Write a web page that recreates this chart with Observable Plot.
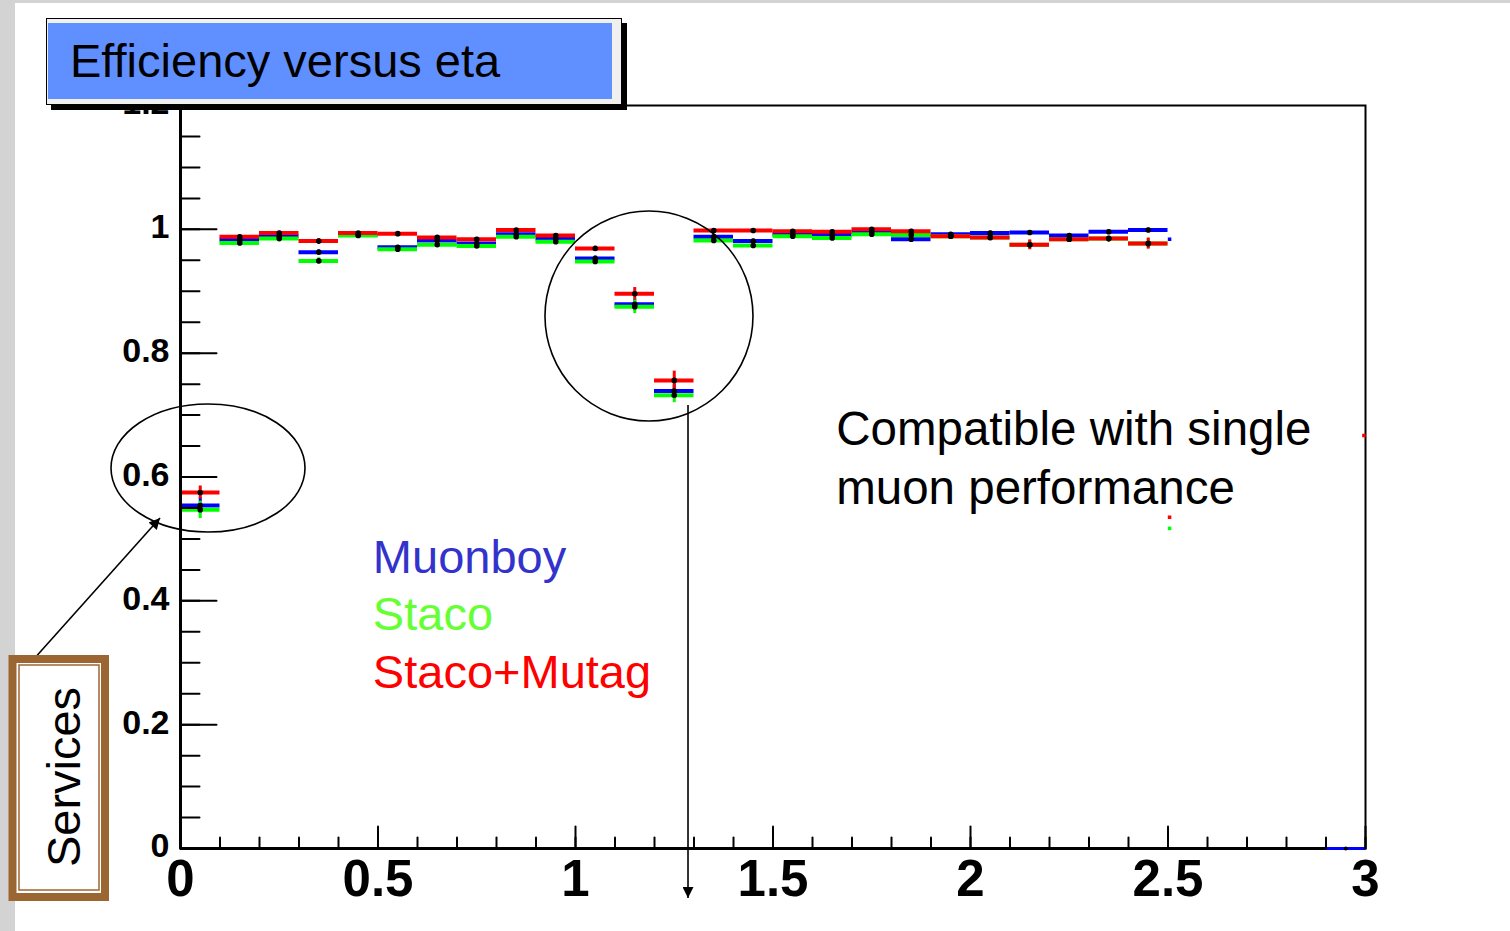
<!DOCTYPE html>
<html><head><meta charset="utf-8">
<script src="https://cdn.jsdelivr.net/npm/d3@7"></script>
<script src="https://cdn.jsdelivr.net/npm/@observablehq/plot@0.6"></script>
<style>
html,body{margin:0;padding:0;background:#fff;overflow:hidden;}
#chart svg{display:block;max-width:none;background:linear-gradient(#d3d3d3,#d3d3d3) 0 0/15px 100% no-repeat, linear-gradient(#d3d3d3,#d3d3d3) 0 0/100% 3px no-repeat, #fff;}
</style></head><body><div id="chart"></div>
<script>
// ---- data ----
const etaEdges = [0,0.1,0.2,0.3,0.4,0.5,0.6,0.7,0.8,0.9,1.0,1.1,1.2,1.3,1.4,1.5,1.6,1.7,1.8,1.9,2.0,2.1,2.2,2.3,2.4,2.5];
const muonboy    = [0.554,0.983,0.989,0.963,0.991,0.971,0.982,0.977,0.992,0.985,0.953,0.879,0.739,0.988,0.981,0.992,0.991,0.996,0.984,0.992,0.994,0.995,0.990,0.996,0.999];
const staco      = [0.547,0.978,0.985,0.949,0.990,0.968,0.975,0.973,0.988,0.980,0.948,0.875,0.732,0.982,0.974,0.989,0.986,0.992,0.991,0.989,0.987,0.975,0.984,0.985,0.977];
const stacoMutag = [0.575,0.988,0.994,0.981,0.994,0.993,0.987,0.984,0.999,0.990,0.969,0.896,0.756,0.998,0.998,0.997,0.996,1.000,0.997,0.989,0.987,0.975,0.984,0.985,0.977];
const errMuonboy    = [0.013,0.003,0.003,0.004,0.003,0.003,0.003,0.003,0.003,0.003,0.004,0.008,0.010,0.003,0.003,0.003,0.003,0.003,0.003,0.003,0.003,0.003,0.003,0.003,0.003];
const errStaco      = [0.014,0.004,0.004,0.005,0.003,0.004,0.004,0.004,0.003,0.004,0.005,0.011,0.012,0.004,0.004,0.004,0.004,0.003,0.004,0.003,0.003,0.007,0.004,0.004,0.008];
const errStacoMutag = [0.0105,0.003,0.003,0.004,0.002,0.002,0.003,0.003,0.002,0.003,0.004,0.010,0.015,0.002,0.002,0.002,0.003,0.002,0.003,0.003,0.003,0.008,0.004,0.004,0.009];
const seriesNames  = ["Muonboy","Staco","Staco+Mutag"];
const seriesColors = ["#0000ff","#00ff00","#ff0000"];
const legendColors = ["#3333cc","#66ff33","#ff0000"];
// stray markers seen on the original (overflow / edge bins)
const strayEta    = [2.504, 2.504, 2.504, 2.996];
const strayEff    = [0.984, 0.517, 0.535, 0.667];
const straySeries = [0, 1, 2, 2];
const tailLow = [2.9], tailHigh = [3.0], tailEff = [0];
const yTicks = [0,0.2,0.4,0.6,0.8,1,1.2];
const yTickLabels = ["0","0.2","0.4","0.6","0.8","1","1.2"];
const xTicks = [0,0.5,1,1.5,2,2.5,3];
const xTickLabels = ["0","0.5","1","1.5","2","2.5","3"];
const titleText = "Efficiency versus eta";
const noteLines = ["Compatible with single","muon performance"];
const servicesText = "Services";

// ---- build table ----
const values = [muonboy, staco, stacoMutag];
const errs = [errMuonboy, errStaco, errStacoMutag];
const rows = [];
values.forEach((vals, s) => vals.forEach((v, i) => rows.push({
  s, lo: etaEdges[i], hi: etaEdges[i+1], mid: (etaEdges[i]+etaEdges[i+1])/2, v, e: errs[s][i]
})));
const tail = tailLow.map((lo,i)=>({s:0, lo, hi: tailHigh[i], mid:(lo+tailHigh[i])/2, v: tailEff[i]}));
const stray = strayEta.map((x,i)=>({x, y: strayEff[i], s: straySeries[i]}));
const yMinor = d3.range(0, 1.2001, 0.05);
const xMinor = d3.range(0, 3.0001, 0.1);
const line = {draw(ctx, l){ ctx.moveTo(0,0); ctx.lineTo(0,-l); }};
const FONT = "'Liberation Sans', Arial, Helvetica, sans-serif";

const marks = [Plot.frame({stroke:"black", strokeWidth:2})];
for (let s = 0; s < 3; s++) {
  const d = rows.filter(r => r.s === s);
  marks.push(Plot.ruleY(d, {y:"v", x1:"lo", x2:"hi", stroke: seriesColors[s], strokeWidth:4}));
  marks.push(Plot.ruleX(d, {x:"mid", y1: r=>r.v-r.e, y2: r=>r.v+r.e, stroke: seriesColors[s], strokeWidth:3}));
}
marks.push(
  Plot.dot(stray, {x:"x", y:"y", symbol:"square", r:2, fill: d=>seriesColors[d.s], stroke:null}),
  Plot.dot(rows, {x:"mid", y:"v", r:2.8, fill:"black"}),
  Plot.ruleX([0], {stroke:"black", strokeWidth:3}),
  Plot.ruleY([0], {stroke:"black", strokeWidth:3}),
  Plot.ruleY(tail, {y:"v", x1:"lo", x2:"hi", stroke: seriesColors[0], strokeWidth:3}),
  Plot.dot(tail, {x:"mid", y:"v", r:2, fill:"black"}),
  Plot.vector(yMinor, {x:()=>0, y:d=>d, length:19, rotate:90, anchor:"start", shape:line, stroke:"black", strokeWidth:2}),
  Plot.vector(yTicks, {x:()=>0, y:d=>d, length:36, rotate:90, anchor:"start", shape:line, stroke:"black", strokeWidth:2}),
  Plot.vector(xMinor, {x:d=>d, y:()=>0, length:11, rotate:0, anchor:"start", shape:line, stroke:"black", strokeWidth:2}),
  Plot.vector(xTicks, {x:d=>d, y:()=>0, length:22, rotate:0, anchor:"start", shape:line, stroke:"black", strokeWidth:2}),
  Plot.text(yTicks, {x:()=>0, y:d=>d, text:(d,i)=>yTickLabels[i], textAnchor:"end", dx:-11, dy:-2, fontSize:34, fontWeight:"bold", fill:"black"}),
  Plot.text(xTicks, {x:d=>d, y:()=>0, text:(d,i)=>xTickLabels[i], dy:31, fontSize:51, fontWeight:"bold", fill:"black"}),
  // legend
  Plot.text(seriesNames, {x:()=>0.487, y:(d,i)=>[0.4455,0.3525,0.2590][i], text:d=>d, textAnchor:"start", lineAnchor:"bottom", fontSize:47, fill:(d,i)=>legendColors[i]}),
  // note
  Plot.text(noteLines, {x:()=>1.660, y:(d,i)=>[0.651,0.557][i], text:d=>d, textAnchor:"start", lineAnchor:"bottom", fontSize:47.5, fill:"black"})
);

const plot = Plot.plot({
  width:1510, height:931,
  marginLeft:180, marginRight:145, marginTop:105, marginBottom:83,
  x:{domain:[0,3], axis:null},
  y:{domain:[0,1.2], axis:null},
  style:{fontFamily:FONT, overflow:"visible"},
  marks
});
document.getElementById("chart").appendChild(plot);

// ---- annotations ----
const sx = plot.scale("x"), sy = plot.scale("y");
const svg = d3.select(plot);
const defs = svg.append("defs");
defs.append("marker").attr("id","ah").attr("viewBox","0 0 10 10").attr("refX",10).attr("refY",5)
  .attr("markerWidth",15).attr("markerHeight",11).attr("markerUnits","userSpaceOnUse").attr("orient","auto")
  .append("path").attr("d","M0,0 L10,5 L0,10 z").attr("fill","black");
const ann = svg.append("g").attr("fill","none").attr("stroke","black").attr("stroke-width",1.6);
ann.append("ellipse").attr("cx", sx.apply(0.0709)).attr("cy", sy.apply(0.6137)).attr("rx",97).attr("ry",64);
ann.append("ellipse").attr("cx", sx.apply(1.1873)).attr("cy", sy.apply(0.8592)).attr("rx",104).attr("ry",105);
ann.append("line").attr("x1", sx.apply(-0.3722)).attr("y1", sy.apply(0.3036)).attr("x2", sx.apply(-0.0506)).attr("y2", sy.apply(0.5329)).attr("marker-end","url(#ah)");
ann.append("line").attr("x1", sx.apply(1.2861)).attr("y1", sy.apply(0.7154)).attr("x2", sx.apply(1.2861)).attr("y2", sy.apply(-0.0807)).attr("marker-end","url(#ah)");

// title box
const tb = svg.append("g");
tb.append("rect").attr("x",51).attr("y",23).attr("width",576).attr("height",87).attr("fill","black");
tb.append("rect").attr("x",46.5).attr("y",18.5).attr("width",575).attr("height",86).attr("fill","#f0f0f0").attr("stroke","black").attr("stroke-width",1);
tb.append("rect").attr("x",48).attr("y",23).attr("width",564).attr("height",76).attr("fill","#6090ff");
tb.append("text").attr("x",70).attr("y",77).attr("text-anchor","start").attr("font-family",FONT).attr("font-size",47).attr("fill","black").text(titleText);

// services box
const sb = svg.append("g");
sb.append("rect").attr("x",12.5).attr("y",659).attr("width",92.5).attr("height",238).attr("fill","white").attr("stroke","#9c6633").attr("stroke-width",8);
sb.append("rect").attr("x",19).attr("y",665).attr("width",80).attr("height",225).attr("fill","none").attr("stroke","#9c6633").attr("stroke-width",1.5);
sb.append("text").attr("transform","translate(80,777) rotate(-90)").attr("text-anchor","middle")
  .attr("font-family",FONT).attr("font-size",47).attr("fill","black").text(servicesText);
</script>
</body></html>
